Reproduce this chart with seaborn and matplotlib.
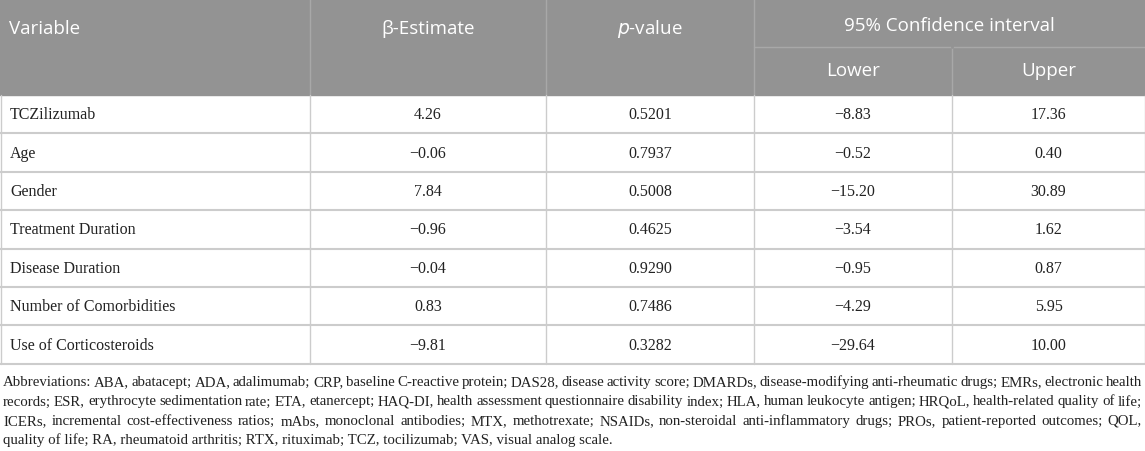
import matplotlib
matplotlib.use("Agg")
import matplotlib.pyplot as plt
import seaborn as sns
import pandas as pd

variables = ["TCZilizumab", "Age", "Gender", "Treatment Duration", "Disease Duration",
             "Number of Comorbidities", "Use of Corticosteroids"]
estimates = ["4.26", "−0.06", "7.84", "−0.96", "−0.04", "0.83", "−9.81"]
p_values = ["0.5201", "0.7937", "0.5008", "0.4625", "0.9290", "0.7486", "0.3282"]
ci_lower = ["−8.83", "−0.52", "−15.20", "−3.54", "−0.95", "−4.29", "−29.64"]
ci_upper = ["17.36", "0.40", "30.89", "1.62", "0.87", "5.95", "10.00"]

footnote = [
    "Abbreviations: ABA, abatacept; ADA, adalimumab; CRP, baseline C-reactive protein; DAS28, disease activity score; DMARDs, disease-modifying anti-rheumatic drugs; EMRs, electronic health",
    "records; ESR, erythrocyte sedimentation rate; ETA, etanercept; HAQ-DI, health assessment questionnaire disability index; HLA, human leukocyte antigen; HRQoL, health-related quality of life;",
    "ICERs, incremental cost-effectiveness ratios; mAbs, monoclonal antibodies; MTX, methotrexate; NSAIDs, non-steroidal anti-inflammatory drugs; PROs, patient-reported outcomes; QOL,",
    "quality of life; RA, rheumatoid arthritis; RTX, rituximab; TCZ, tocilizumab; VAS, visual analog scale.",
]

df = pd.DataFrame({"var": variables, "est": estimates, "p": p_values,
                   "lo": ci_lower, "hi": ci_upper})

sns.set_theme(style="white")
W, H = 1145, 452
fig = plt.figure(figsize=(W / 100, H / 100), dpi=100)
ax = fig.add_axes([0, 0, 1, 1])
ax.set_xlim(0, W)
ax.set_ylim(H, 0)
ax.axis("off")

cols = [0, 310, 546, 754, 952, 1145]
head_bot = 96
row_h = 38.4
grey = "#939393"
line_c = "#cccccc"
txt_c = "#222222"
head_font = ["Open Sans", "DejaVu Sans"]
body_font = ["Liberation Serif", "DejaVu Serif"]

# header block
ax.axhspan(0, head_bot, color=grey, zorder=0)
for x in cols[1:-1]:
    ax.plot([x, x], [0, head_bot], color="#a8a8a8", lw=1)
ax.plot([cols[3], cols[5]], [48, 48], color="#a8a8a8", lw=1)
ax.plot([cols[4], cols[4]], [0, 48], color=grey, lw=2)

hs = 13.5
ax.text(9, 29, "Variable", color="white", fontsize=hs, family=head_font, va="center")
ax.text((cols[1] + cols[2]) / 2, 29, "β-Estimate", color="white", fontsize=hs,
        family=head_font, va="center", ha="center")
ax.text((cols[2] + cols[3]) / 2, 29, "$\\it{p}$-value", color="white", fontsize=hs,
        family=head_font, va="center", ha="center")
ax.text((cols[3] + cols[5]) / 2, 26, "95% Confidence interval", color="white", fontsize=hs,
        family=head_font, va="center", ha="center")
ax.text((cols[3] + cols[4]) / 2, 71, "Lower", color="white", fontsize=hs,
        family=head_font, va="center", ha="center")
ax.text((cols[4] + cols[5]) / 2, 71, "Upper", color="white", fontsize=hs,
        family=head_font, va="center", ha="center")

# body
bs = 11.5
for i, row in df.iterrows():
    yc = head_bot + row_h * (i + 0.5)
    ax.text(10, yc, row["var"], fontsize=bs, family=body_font, va="center", color=txt_c)
    for j, key in enumerate(["est", "p", "lo", "hi"]):
        ax.text((cols[j + 1] + cols[j + 2]) / 2, yc, row[key], fontsize=bs,
                family=body_font, va="center", ha="center", color=txt_c)
    yb = head_bot + row_h * (i + 1)
    ax.plot([0, W], [yb, yb], color=line_c, lw=1.5)

body_bot = head_bot + row_h * len(df)
for x in cols:
    xx = min(max(x, 0.5), W - 0.5)
    ax.plot([xx, xx], [head_bot, body_bot], color=line_c, lw=1)

# footnote, justified like the journal layout
fs = 10.7
x_left, x_right = 3, 1142
renderer = fig.canvas.get_renderer()
for k, line in enumerate(footnote):
    yb = 386 + 19.5 * k
    words = line.split(" ")
    if k == len(footnote) - 1:
        ax.text(x_left, yb, line, fontsize=fs, family=body_font, va="baseline", color=txt_c)
        continue
    arts = [ax.text(0, yb, w, fontsize=fs, family=body_font, va="baseline", color=txt_c)
            for w in words]
    widths = [a.get_window_extent(renderer).width for a in arts]
    gap = (x_right - x_left - sum(widths)) / (len(words) - 1)
    x = x_left
    for a, wd in zip(arts, widths):
        a.set_x(x)
        x += wd + gap

fig.savefig("out.png", dpi=100)
